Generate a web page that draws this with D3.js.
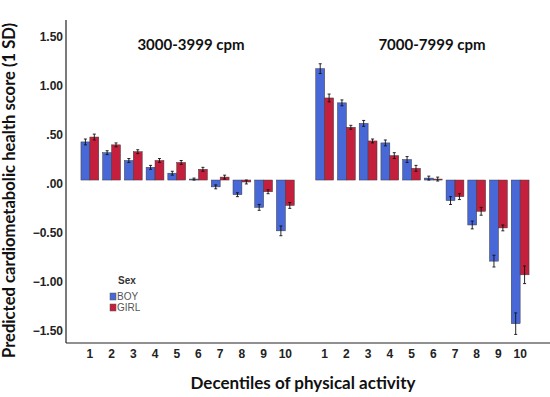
<!DOCTYPE html>
<html>
<head>
<meta charset="utf-8">
<script src="https://cdn.jsdelivr.net/npm/d3@7"></script>
<style>
  body { margin: 0; background: #fff; }
  svg { display: block; }
</style>
</head>
<body>
<div id="chart"></div>
<script>
// Data
const panels = ['3000-3999 cpm', '7000-7999 cpm'];
const deciles = ['1', '2', '3', '4', '5', '6', '7', '8', '9', '10'];
const sexes = ['BOY', 'GIRL'];

const boyLow  = [0.39, 0.28, 0.20, 0.13, 0.07, 0.01, -0.07, -0.15, -0.28, -0.52];
const girlLow = [0.44, 0.36, 0.29, 0.20, 0.18, 0.11, 0.03, -0.02, -0.12, -0.26];
const boyLowErr  = [0.03, 0.02, 0.02, 0.02, 0.02, 0.01, 0.02, 0.02, 0.03, 0.05];
const girlLowErr = [0.03, 0.02, 0.02, 0.02, 0.02, 0.02, 0.02, 0.02, 0.02, 0.03];

const boyHigh  = [1.14, 0.79, 0.58, 0.38, 0.21, 0.02, -0.21, -0.46, -0.83, -1.47];
const girlHigh = [0.84, 0.54, 0.40, 0.25, 0.12, 0.01, -0.17, -0.32, -0.49, -0.97];
const boyHighErr  = [0.05, 0.03, 0.03, 0.03, 0.03, 0.02, 0.04, 0.04, 0.06, 0.11];
const girlHighErr = [0.04, 0.02, 0.02, 0.03, 0.03, 0.02, 0.03, 0.04, 0.03, 0.09];

const yTicks = [1.5, 1.0, 0.5, 0, -0.5, -1.0, -1.5];

const colors = {BOY: '#4868d8', GIRL: '#c4203e'};

// Build rows for the bars
const rows = [];
[[boyLow, girlLow, boyLowErr, girlLowErr], [boyHigh, girlHigh, boyHighErr, girlHighErr]]
  .forEach(([b, g, be, ge], pi) => {
    deciles.forEach((dec, i) => {
      rows.push({panel: panels[pi], decile: dec, sex: 'BOY', value: b[i], err: be[i]});
      rows.push({panel: panels[pi], decile: dec, sex: 'GIRL', value: g[i], err: ge[i]});
    });
  });

const width = 550, height = 397;
const svg = d3.select('#chart').append('svg')
  .attr('width', width)
  .attr('height', height);

const x0 = d3.scaleBand().domain(panels).range([79, 531]).paddingInner(0.075);
const x1 = d3.scaleBand().domain(deciles).range([0, x0.bandwidth()]).paddingInner(0.18).paddingOuter(0.09);
const x2 = d3.scaleBand().domain(sexes).range([0, x1.bandwidth()]);

const y = d3.scaleLinear().domain([-1.668, 1.638]).range([343, 20]);

// Bars
const bars = svg.append('g');
bars.selectAll('rect')
  .data(rows)
  .enter()
  .append('rect')
  .attr('x', d => x0(d.panel) + x1(d.decile) + x2(d.sex))
  .attr('y', d => y(Math.max(0, d.value)))
  .attr('width', x2.bandwidth())
  .attr('height', d => Math.abs(y(d.value) - y(0)))
  .attr('fill', d => colors[d.sex])
  .attr('stroke', '#3a3a3a')
  .attr('stroke-width', 0.5);

// Error bars
const errs = svg.append('g').attr('stroke', '#111').attr('stroke-width', 0.9);
rows.forEach(d => {
  const cx = x0(d.panel) + x1(d.decile) + x2(d.sex) + x2.bandwidth() / 2;
  errs.append('line')
    .attr('x1', cx).attr('x2', cx)
    .attr('y1', y(d.value - d.err)).attr('y2', y(d.value + d.err));
  [d.value - d.err, d.value + d.err].forEach(v => {
    errs.append('line')
      .attr('x1', cx - 1.5).attr('x2', cx + 1.5)
      .attr('y1', y(v)).attr('y2', y(v));
  });
});

// Y axis
const yAxis = svg.append('g')
  .attr('transform', 'translate(66,0)')
  .call(d3.axisLeft(y).tickValues(yTicks).tickSize(0).tickPadding(3)
    .tickFormat(d => d3.format('.2f')(d).replace(/^0/, '').replace(/^-0/, '-')));
yAxis.select('.domain').attr('stroke', '#222').attr('stroke-width', 1.2)
  .attr('d', `M0,${y.range()[1]}V${y.range()[0]}`);
yAxis.selectAll('text')
  .attr('dy', '0.62em')
  .style('font-family', 'Liberation Sans, Arial, sans-serif')
  .style('font-size', '12px')
  .style('font-weight', 'bold')
  .attr('fill', '#222');

// X axis line
svg.append('line')
  .attr('x1', 66).attr('x2', 550)
  .attr('y1', 343).attr('y2', 343)
  .attr('stroke', '#222').attr('stroke-width', 1.2);

// X tick labels
panels.forEach(p => {
  svg.append('g')
    .selectAll('text')
    .data(deciles)
    .enter()
    .append('text')
    .attr('x', d => x0(p) + x1(d) + x1.bandwidth() / 2)
    .attr('y', 358)
    .attr('text-anchor', 'middle')
    .style('font-family', 'Liberation Sans, Arial, sans-serif')
    .style('font-size', '12px')
    .style('font-weight', 'bold')
    .attr('fill', '#222')
    .text(d => d);
});

// Panel titles
svg.selectAll('.panel-title')
  .data(panels)
  .enter()
  .append('text')
  .attr('class', 'panel-title')
  .attr('x', (d, i) => i === 0 ? 191 : 432)
  .attr('y', 50)
  .attr('text-anchor', 'middle')
  .style('font-family', 'Lato, sans-serif')
  .style('font-size', '15px')
  .style('font-weight', 'bold')
  .attr('fill', '#111')
  .text(d => d);

// Axis titles
svg.append('text')
  .attr('x', 303)
  .attr('y', 389)
  .attr('text-anchor', 'middle')
  .style('font-family', 'Lato, sans-serif')
  .style('font-size', '17px')
  .style('font-weight', 'bold')
  .attr('fill', '#111')
  .text('Decentiles of physical activity');

svg.append('text')
  .attr('transform', 'translate(15,358) rotate(-90)')
  .attr('text-anchor', 'start')
  .style('font-family', 'Lato, sans-serif')
  .style('font-size', '16.6px')
  .style('font-weight', 'bold')
  .attr('fill', '#111')
  .text('Predicted cardiometabolic health score (1 SD)');

// Legend
const legend = svg.append('g');
legend.append('text')
  .attr('x', 127).attr('y', 284)
  .attr('text-anchor', 'middle')
  .style('font-family', 'Liberation Sans, Arial, sans-serif')
  .style('font-size', '10px')
  .style('font-weight', 'bold')
  .attr('fill', '#333')
  .text('Sex');
sexes.forEach((s, i) => {
  legend.append('rect')
    .attr('x', 110).attr('y', 293 + i * 11)
    .attr('width', 6).attr('height', 7)
    .attr('fill', colors[s])
    .attr('stroke', '#555').attr('stroke-width', 0.5);
  legend.append('text')
    .attr('x', 117).attr('y', 300 + i * 11)
    .style('font-family', 'Liberation Sans, Arial, sans-serif')
    .style('font-size', '10px')
    .attr('fill', '#555')
    .text(s);
});
</script>
</body>
</html>
